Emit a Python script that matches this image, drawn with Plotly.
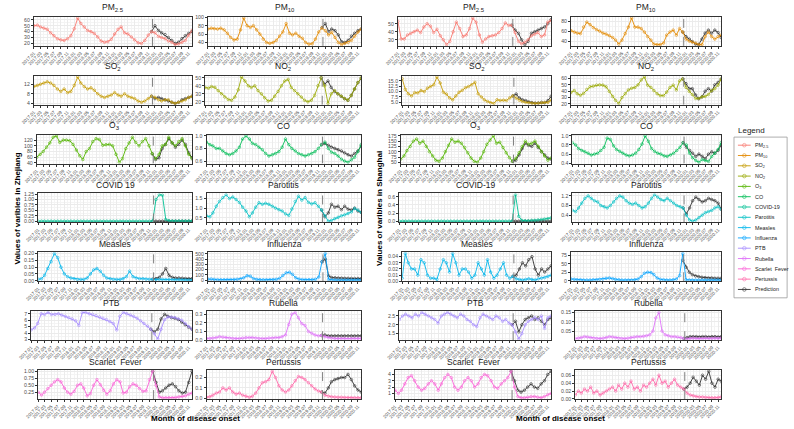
import plotly.graph_objects as go
import pandas as pd

W, H = 794, 429
months = pd.date_range("2017-01-01", "2020-12-01", freq="MS")
pred_months = months[35:]
SPLIT = "2019-12-10"

# ---------------- Zhejiang ----------------
zj_pm25 = [50,51,48,46,44,38,33,28,26,25,28,33,45,63,54,48,42,40,37,31,24,22,23,27,36,44,48,38,36,31,26,21,20,25,34,40,38,32,30,28,24,22,18,19,22,25,34,42]
zj_pm25_pred = [40,50,42,38,35,30,25,20,22,28,33,37,40]
zj_pm10 = [72,74,73,72,74,70,62,52,46,48,70,98,80,76,80,70,60,48,40,38,40,45,55,65,85,62,58,62,55,50,40,36,37,48,65,75,68,58,64,52,40,35,38,40,45,55,65,72]
zj_pm10_pred = [75,85,66,72,68,58,42,40,45,55,62,68,72]
zj_so2 = [11,11.5,12,12.5,13,12.5,11.5,10,9,10,8.5,9,11.5,15,12.5,11,10,10.5,9.5,8,7,6.5,7,7.5,8.5,7.5,7,8,7,6.5,6,5,4.5,5,6,7,6.5,5.5,5,5.5,5.5,4.5,4,4.5,5,5.5,6.5,7]
zj_so2_pred = [7,6,6.5,6,5.5,5,4.5,4,4.5,5.5,6,6.5,7]
zj_no2 = [38,37,39,38,34,30,26,23,22,26,35,51,46,40,38,40,34,30,25,21,22,27,33,40,46,48,38,34,30,26,22,20,22,28,40,50,40,18,30,34,30,27,24,22,28,36,44,50]
zj_no2_pred = [50,42,46,38,33,30,27,24,22,28,36,44,49]
zj_o3 = [60,70,80,95,110,130,135,112,120,120,118,105,85,65,52,80,90,115,125,122,102,104,105,100,70,42,55,90,110,130,112,100,115,125,100,72,55,70,100,105,130,110,100,115,125,100,70,55]
zj_o3_pred = [72,52,58,90,105,125,110,95,105,120,105,75,58]
zj_co = [0.90,0.86,0.84,0.80,0.80,0.76,0.72,0.70,0.72,0.76,0.82,0.95,1.00,0.95,0.88,0.86,0.82,0.78,0.72,0.68,0.70,0.72,0.75,0.82,0.95,0.86,0.80,0.76,0.72,0.70,0.68,0.70,0.72,0.75,0.80,0.86,0.90,0.80,0.74,0.72,0.68,0.63,0.60,0.58,0.62,0.66,0.75,0.86]
zj_co_pred = [0.86,0.88,0.85,0.82,0.80,0.78,0.76,0.73,0.70,0.68,0.72,0.76,0.84]
zj_covid = [0]*36 + [1.00,1.22,1.20,0.08,0.02,0.01,0.01,0.01,0.01,0.01,0.01,0.01]
zj_covid_pred = [0,0,0,0,0,0,0,0,0,0,0,0,0]
zj_parotitis = [0.60,0.55,0.75,1.10,1.35,1.55,1.70,1.50,1.58,1.45,1.30,1.05,0.85,0.55,0.75,1.05,1.28,1.20,1.25,1.20,1.10,1.00,0.92,0.85,0.70,0.62,0.95,1.35,1.62,1.42,1.55,1.30,1.22,1.28,1.10,0.90,0.60,0.32,0.36,0.45,0.52,0.60,0.65,0.72,0.80,0.98,0.90,0.78]
zj_parotitis_pred = [0.90,0.55,0.75,1.20,1.05,1.10,0.92,1.10,0.95,0.90,1.00,0.85,0.78]
zj_measles = [0.01,0.015,0.04,0.09,0.14,0.20,0.17,0.10,0.05,0.03,0.02,0.015,0.01,0.01,0.01,0.02,0.05,0.08,0.09,0.07,0.04,0.02,0.015,0.01,0.01,0.01,0.015,0.03,0.07,0.03,0.02,0.015,0.015,0.012,0.01,0.01,0.008,0.01,0.01,0.008,0.01,0.008,0.007,0.008,0.006,0.006,0.005,0.005]
zj_measles_pred = [0.01,0.015,0.025,0.05,0.09,0.04,0.025,0.02,0.02,0.018,0.016,0.015,0.015]
zj_influenza = [20,22,15,10,8,8,10,12,14,18,25,45,85,75,30,15,10,8,8,10,12,18,35,90,140,150,110,45,20,12,10,10,12,18,60,350,505,15,5,4,3,3,3,3,3,4,5,5]
zj_influenza_pred = [350,400,80,50,45,40,38,35,35,33,32,32,30]
zj_ptb = [4.5,4.8,5.5,7.0,6.9,7.2,6.9,6.9,7.0,6.8,6.6,6.4,6.2,5.9,5.2,7.2,7.2,7.0,6.9,6.7,6.5,6.3,6.1,5.8,5.5,4.5,6.6,7.2,7.0,6.8,6.6,6.3,5.9,5.5,5.1,4.6,3.9,3.1,4.6,6.1,6.5,6.5,6.4,6.2,6.0,5.5,5.0,4.6]
zj_ptb_pred = [4.6,4.2,4.6,6.2,6.9,6.6,6.4,6.3,6.1,5.7,5.3,4.9,4.6]
zj_rubella = [0.02,0.02,0.025,0.03,0.04,0.035,0.03,0.025,0.02,0.02,0.02,0.025,0.03,0.03,0.03,0.025,0.02,0.02,0.02,0.025,0.025,0.03,0.03,0.04,0.06,0.18,0.30,0.32,0.26,0.19,0.17,0.10,0.08,0.06,0.05,0.055,0.04,0.03,0.025,0.02,0.02,0.02,0.02,0.015,0.02,0.02,0.02,0.02]
zj_rubella_pred = [0.055,0.06,0.05,0.05,0.05,0.05,0.05,0.05,0.05,0.05,0.05,0.05,0.05]
zj_scarlet = [0.25,0.15,0.25,0.38,0.50,0.62,0.70,0.62,0.40,0.25,0.18,0.28,0.50,0.55,0.40,0.12,0.20,0.50,0.70,0.52,0.32,0.18,0.30,0.55,0.70,0.62,0.22,0.25,0.45,0.55,0.50,0.38,0.28,0.30,0.70,1.00,0.50,0.08,0.05,0.05,0.05,0.05,0.06,0.08,0.10,0.12,0.18,0.22]
zj_scarlet_pred = [1.00,0.60,0.25,0.30,0.40,0.50,0.55,0.45,0.30,0.22,0.25,0.60,1.00]
zj_pertussis = [0.01,0.015,0.03,0.05,0.06,0.10,0.08,0.10,0.06,0.04,0.05,0.03,0.02,0.01,0.02,0.05,0.10,0.15,0.16,0.18,0.26,0.20,0.12,0.08,0.06,0.08,0.12,0.17,0.21,0.20,0.18,0.15,0.12,0.09,0.07,0.06,0.03,0.02,0.015,0.012,0.01,0.01,0.008,0.008,0.006,0.006,0.005,0.005]
zj_pertussis_pred = [0.06,0.05,0.10,0.16,0.18,0.19,0.20,0.20,0.23,0.18,0.12,0.08,0.06]

# ---------------- Shanghai ----------------
sh_pm25 = [53,31,31,36,38,40,42,39,46,50,47,39,43,35,30,24,28,40,52,44,34,36,44,57,52,36,27,31,34,35,36,39,44,51,48,48,39,28,25,27,30,35,37,39,34,36,52,54]
sh_pm25_pred = [48,42,38,30,24,28,38,40,42,44,46,50,55]
sh_pm10 = [62,59,57,56,69,79,74,68,64,61,57,55,52,48,43,35,43,56,69,87,69,69,66,59,50,43,35,34,34,37,53,59,63,53,66,59,45,41,39,37,34,34,50,59,50,45,50,53]
sh_pm10_pred = [59,50,45,40,35,34,45,57,63,57,63,58,48]
sh_so2 = [16.0,11.0,9.0,8.0,9.5,9.4,10.5,10.0,11.6,12.4,13.2,16.8,14.0,9.7,8.9,7.1,6.2,8.0,9.7,10.6,11.8,12.4,13.2,14.3,9.0,7.5,6.2,5.4,4.8,4.5,6.2,5.9,6.0,5.9,7.1,8.0,7.0,6.0,5.4,5.0,4.8,4.6,4.5,4.6,4.8,5.0,5.0,6.0]
sh_so2_pred = [8.0,8.9,7.0,6.2,5.8,5.2,4.9,4.6,4.7,5.0,4.8,5.8,7.8]
sh_no2 = [38,41,36,33.5,36.6,42.8,47,48,49.6,50,49.6,47,39.7,31.6,25.4,20.5,29.8,36,42,44.7,46,50,58,62.6,49.6,46,41,36,33,33,38.5,46,49.6,42,56.4,59.5,46,39.7,34.7,28.5,28.5,31,31.6,34.7,41,44,49.6,59.5]
sh_no2_pred = [59.5,52,44,44,34,28,31,40,44,40,50,54,59]
sh_o3 = [65,80,105,125,150,160,140,150,125,100,80,60,55,70,100,130,160,145,150,140,120,95,70,55,50,70,100,135,155,175,140,145,120,95,72,55,68,95,125,150,135,140,150,125,100,80,60,70]
sh_o3_pred = [55,60,85,115,140,130,125,140,120,100,85,70,65]
sh_co = [0.85,0.80,0.72,0.68,0.65,0.62,0.58,0.60,0.62,0.68,0.75,0.95,0.92,0.78,0.70,0.66,0.62,0.58,0.56,0.58,0.62,0.70,0.82,1.00,0.88,0.72,0.66,0.62,0.60,0.56,0.55,0.58,0.62,0.68,0.75,0.85,0.80,0.62,0.52,0.46,0.42,0.48,0.46,0.44,0.55,0.62,0.70,0.85]
sh_co_pred = [0.85,0.75,0.68,0.62,0.55,0.60,0.55,0.50,0.60,0.65,0.62,0.68,0.80]
sh_covid = [0]*36 + [0.65,0.12,0.02,0.01,0.01,0.02,0.02,0.03,0.04,0.05,0.06,0.08]
sh_covid_pred = [0,0,0,0,0,0,0,0,0,0,0,0,0]
sh_parotitis = [0.6,0.55,0.7,0.9,1.1,1.2,1.1,1.0,0.95,0.8,0.75,0.7,0.8,0.95,1.1,1.2,1.15,1.0,0.9,0.85,0.9,0.8,0.7,0.75,0.9,1.1,1.25,1.15,1.05,1.0,1.1,1.0,0.9,0.8,0.75,0.7,0.4,0.2,0.15,0.2,0.3,0.4,0.5,0.55,0.6,0.7,0.75,0.65]
sh_parotitis_pred = [0.7,0.45,0.7,1.0,1.15,1.05,0.95,1.0,1.1,1.05,1.0,0.9,0.65]
sh_measles = [0.005,0.045,0.03,0.02,0.02,0.01,0.035,0.03,0.01,0.005,0.005,0.003,0.02,0.035,0.03,0.015,0.045,0.03,0.01,0.02,0.02,0.015,0.005,0.01,0.03,0.02,0.01,0.035,0.015,0.005,0.01,0.02,0.03,0.01,0.005,0.008,0.004,0.003,0.002,0.003,0.004,0.003,0.002,0.004,0.005,0.006,0.008,0.01]
sh_measles_pred = [0.008,0.01,0.02,0.03,0.025,0.035,0.04,0.02,0.01,0.02,0.015,0.02,0.025]
sh_influenza = [5,4,3,3,2,2,2,3,3,4,5,7,8,6,4,3,2,2,2,2,3,5,12,22,25,24,18,8,4,3,2,2,3,5,15,80,3,2,2,2,2,2,2,2,2,2,2,2]
sh_influenza_pred = [60,40,25,18,14,12,10,9,8,8,7,7,7]
sh_ptb = [2.3,2.5,2.6,2.5,2.4,2.6,2.5,2.7,2.6,2.5,2.4,2.3,2.1,2.5,2.6,2.7,2.6,2.5,2.4,2.6,2.5,2.3,2.2,2.0,1.9,2.4,2.6,2.5,2.4,2.3,2.5,2.4,2.2,2.3,2.1,2.0,1.6,1.2,1.5,2.0,2.2,2.3,2.4,2.3,2.5,1.8,2.4,2.5]
sh_ptb_pred = [2.0,2.2,1.6,2.0,2.3,2.4,2.5,2.3,2.4,2.2,2.0,2.3,2.4]
sh_rubella = [0.01,0.012,0.015,0.02,0.018,0.015,0.012,0.01,0.01,0.012,0.015,0.02,0.018,0.015,0.012,0.01,0.01,0.012,0.015,0.018,0.02,0.02,0.022,0.025,0.03,0.05,0.12,0.15,0.05,0.03,0.025,0.02,0.02,0.018,0.015,0.01,0.008,0.01,0.012,0.01,0.01,0.01,0.012,0.01,0.01,0.012,0.01,0.012]
sh_rubella_pred = [0.01,0.015,0.02,0.02,0.02,0.018,0.02,0.02,0.018,0.02,0.02,0.018,0.02]
sh_scarlet = [1.5,1.0,1.5,2.5,3.5,3.8,3.0,2.0,1.5,1.8,2.5,3.0,2.5,1.5,2.5,3.5,4.0,3.5,2.0,1.5,2.0,3.0,3.5,3.0,2.0,2.5,3.5,4.0,3.8,3.0,2.0,1.8,2.5,3.0,3.5,4.5,2.0,0.5,0.3,0.3,0.4,0.5,0.5,0.4,0.3,0.5,0.8,1.0]
sh_scarlet_pred = [4.5,3.0,1.5,1.2,1.5,2.0,2.5,2.0,1.8,2.5,3.0,4.0,4.5]
sh_pertussis = [0.01,0.02,0.015,0.025,0.02,0.03,0.015,0.02,0.01,0.015,0.02,0.025,0.03,0.02,0.035,0.025,0.04,0.03,0.045,0.025,0.03,0.02,0.035,0.03,0.04,0.05,0.035,0.06,0.04,0.045,0.03,0.04,0.05,0.035,0.03,0.025,0.015,0.01,0.008,0.006,0.005,0.005,0.004,0.004,0.003,0.003,0.004,0.005]
sh_pertussis_pred = [0.025,0.03,0.04,0.055,0.045,0.035,0.06,0.05,0.07,0.04,0.03,0.05,0.045]

# ---------------- labels, ticks ----------------
var_names = ["PM<sub>2.5</sub>", "PM<sub>10</sub>", "SO<sub>2</sub>", "NO<sub>2</sub>", "O<sub>3</sub>", "CO",
             "COVID-19", "Parotitis", "Measles", "Influenza", "PTB", "Rubella", "Scarlet  Fever", "Pertussis"]
legend_labels = var_names + ["Prediction"]
zj_titles = var_names[:6] + ["COVID 19"] + var_names[7:]
sh_titles = var_names[:]
palette = ["#F8766D", "#E38900", "#C49A00", "#99A800", "#53B400", "#00BC56", "#00C094",
           "#00BFC4", "#00B6EB", "#06A4FF", "#A58AFF", "#DF70F8", "#FB61D7", "#FF66A8"]
pred_color = "#303030"

zj_ticks = [
    ["20", "30", "40", "50", "60"], ["40", "60", "80", "100"], ["4", "8", "12"], ["20", "30", "40", "50"],
    ["40", "60", "80", "100", "120", "140"], ["0.6", "0.8", "1.0"], ["0.00", "0.25", "0.50", "0.75", "1.00", "1.25"],
    ["0.5", "1.0", "1.5"], ["0.00", "0.05", "0.10", "0.15", "0.20"], ["0", "100", "200", "300", "400", "500"],
    ["3", "4", "5", "6", "7"], ["0.0", "0.1", "0.2", "0.3"], ["0.00", "0.25", "0.50", "0.75", "1.00"], ["0.0", "0.1", "0.2"]]
sh_ticks = [
    ["20", "30", "40", "50"], ["40", "60", "80"], ["5.0", "7.5", "10.0", "12.5", "15.0"], ["20", "30", "40", "50", "60", "70"],
    ["50", "75", "100", "125", "150", "175"], ["0.4", "0.6", "0.8", "1.0"], ["0.0", "0.2", "0.4", "0.6"],
    ["0.4", "0.8", "1.2"], ["0.00", "0.01", "0.02", "0.03", "0.04", "0.05"], ["0", "25", "50", "75"],
    ["1.5", "2.0", "2.5"], ["0.00", "0.05", "0.10", "0.15"], ["0", "1", "2", "3", "4", "5"], ["0.00", "0.02", "0.04", "0.06"]]

zj_series = [(zj_pm25, zj_pm25_pred), (zj_pm10, zj_pm10_pred), (zj_so2, zj_so2_pred), (zj_no2, zj_no2_pred),
             (zj_o3, zj_o3_pred), (zj_co, zj_co_pred), (zj_covid, zj_covid_pred), (zj_parotitis, zj_parotitis_pred),
             (zj_measles, zj_measles_pred), (zj_influenza, zj_influenza_pred), (zj_ptb, zj_ptb_pred),
             (zj_rubella, zj_rubella_pred), (zj_scarlet, zj_scarlet_pred), (zj_pertussis, zj_pertussis_pred)]
sh_series = [(sh_pm25, sh_pm25_pred), (sh_pm10, sh_pm10_pred), (sh_so2, sh_so2_pred), (sh_no2, sh_no2_pred),
             (sh_o3, sh_o3_pred), (sh_co, sh_co_pred), (sh_covid, sh_covid_pred), (sh_parotitis, sh_parotitis_pred),
             (sh_measles, sh_measles_pred), (sh_influenza, sh_influenza_pred), (sh_ptb, sh_ptb_pred),
             (sh_rubella, sh_rubella_pred), (sh_scarlet, sh_scarlet_pred), (sh_pertussis, sh_pertussis_pred)]

# ---------------- geometry (pixels) ----------------
# each small plot starts at its column's left edge; its panel begins after its own tick labels
COL_LEFT = {(0, 0): 11, (0, 1): 185, (1, 0): 381, (1, 1): 557}
COL_RIGHT = {(0, 0): 182, (0, 1): 354, (1, 0): 547, (1, 1): 720}
YTICK_FS = 5.2
ROW_TOP0, ROW_PITCH, ROW_H = 14, 59.7, 29.5
LEG_BOX = (733, 787, 136, 299)  # left, right, top, bottom
LEG_PITCH, LEG_FIRST = 10.45, 8.2
FONT = "Liberation Sans, Arial, sans-serif"
LINE_W, MK = 0.9, 2.6


def label_width(s):
    return sum((0.278 if ch == "." else 0.556) * YTICK_FS for ch in s)


fig = go.Figure()
layout = {}
shapes, annotations = [], []

for r, (series, ticks, titles) in enumerate([(zj_series, zj_ticks, zj_titles), (sh_series, sh_ticks, sh_titles)]):
    for v in range(14):
        k = r * 14 + v + 1
        xn, yn = ("x" if k == 1 else f"x{k}"), ("y" if k == 1 else f"y{k}")
        row, col = v // 2, v % 2
        x0 = COL_LEFT[(r, col)] + max(label_width(t) for t in ticks[v]) + 4.5
        x1 = COL_RIGHT[(r, col)]
        top = ROW_TOP0 + row * ROW_PITCH
        bot = top + ROW_H
        actual, pred = series[v]
        allv = list(actual) + list(pred)
        lo, hi = min(allv), max(allv)
        span = hi - lo
        rng = [lo - 0.05 * span, hi + 0.05 * span]
        tv = [float(t) for t in ticks[v]]
        step = tv[1] - tv[0]
        minor_vals = [tv[0] - step / 2] + [t + step / 2 for t in tv]

        fig.add_trace(go.Scatter(
            x=pred_months, y=pred, xaxis=xn, yaxis=yn, mode="lines+markers",
            line=dict(color=pred_color, width=LINE_W),
            marker=dict(symbol="circle-open", size=MK, line=dict(width=0.6)),
            name="Prediction", showlegend=False))
        fig.add_trace(go.Scatter(
            x=months, y=actual, xaxis=xn, yaxis=yn, mode="lines+markers",
            line=dict(color=palette[v], width=LINE_W),
            marker=dict(symbol="circle-open", size=MK, line=dict(width=0.6)),
            name=var_names[v], showlegend=False))

        layout["xaxis" if k == 1 else f"xaxis{k}"] = dict(
            domain=[x0 / W, x1 / W], anchor=yn, type="date",
            range=[months[0], months[-1]], tick0="2017-01-01", dtick="M2", tickformat="%Y.%m",
            tickangle=-45, tickfont=dict(size=4.6, color="#4D4D4D", family=FONT),
            showline=True, mirror=True, linecolor="#333333", linewidth=1,
            ticks="outside", ticklen=2, tickcolor="#333333", tickwidth=0.6,
            showgrid=True, gridcolor="#EBEBEB", gridwidth=0.6, zeroline=False,
            minor=dict(dtick="M1", showgrid=True, gridcolor="#F4F4F4", gridwidth=0.4))
        layout["yaxis" if k == 1 else f"yaxis{k}"] = dict(
            domain=[1 - bot / H, 1 - top / H], anchor=xn, range=rng,
            tickmode="array", tickvals=tv, ticktext=ticks[v],
            tickfont=dict(size=YTICK_FS, color="#4D4D4D", family=FONT),
            showline=True, mirror=True, linecolor="#333333", linewidth=1,
            ticks="outside", ticklen=2, tickcolor="#333333", tickwidth=0.6,
            showgrid=True, gridcolor="#EBEBEB", gridwidth=0.6, zeroline=False,
            minor=dict(tickmode="array", tickvals=minor_vals, showgrid=True, gridcolor="#F4F4F4", gridwidth=0.4, ticks=""))
        shapes.append(dict(type="line", xref=xn, yref=yn, x0=SPLIT, x1=SPLIT, y0=rng[0], y1=rng[1],
                           line=dict(color="#7F7F7F", width=1, dash="dash"), layer="above"))
        annotations.append(dict(text=titles[v], x=(x0 + x1) / 2 / W, y=1 - (top - 1.5) / H,
                                xref="paper", yref="paper", xanchor="center", yanchor="bottom",
                                showarrow=False, font=dict(size=8.5, color="#1A1A1A", family=FONT)))

# ---------------- legend (drawn on its own small axis) ----------------
lx0, lx1, ly0, ly1 = LEG_BOX
layout["xaxis29"] = dict(domain=[lx0 / W, lx1 / W], anchor="y29", range=[0, lx1 - lx0], visible=False, fixedrange=True)
layout["yaxis29"] = dict(domain=[1 - ly1 / H, 1 - ly0 / H], anchor="x29", range=[ly1 - ly0, 0], visible=False, fixedrange=True)
leg_colors = palette + [pred_color]
for i, (lab, c) in enumerate(zip(legend_labels, leg_colors)):
    yc = LEG_FIRST + i * LEG_PITCH
    fig.add_trace(go.Scatter(
        x=[4, 10.5, 17], y=[yc, yc, yc], xaxis="x29", yaxis="y29", mode="lines+markers",
        line=dict(color=c, width=LINE_W),
        marker=dict(symbol="circle-open", size=[0, 3.6, 0], color=c, line=dict(width=0.8)),
        showlegend=False, hoverinfo="skip"))
    annotations.append(dict(text=lab, x=19, y=yc, xref="x29", yref="y29", xanchor="left", yanchor="middle",
                            showarrow=False, font=dict(size=5.4, color="#1A1A1A", family=FONT)))
shapes.append(dict(type="rect", xref="paper", yref="paper", x0=lx0 / W, x1=lx1 / W,
                   y0=1 - ly1 / H, y1=1 - ly0 / H, line=dict(color="#9A9A9A", width=0.8)))

# axis titles
annotations += [
    dict(text="<b>Values of varibles in Zhejiang</b>", x=4.5 / W, y=1 - 208 / H, textangle=-90,
         xanchor="center", yanchor="middle",
         xref="paper", yref="paper", showarrow=False, font=dict(size=8, color="black", family=FONT)),
    dict(text="<b>Values of varibles in Shanghai</b>", x=372 / W, y=1 - 208 / H, textangle=-90,
         xanchor="center", yanchor="middle",
         xref="paper", yref="paper", showarrow=False, font=dict(size=8, color="black", family=FONT)),
    dict(text="<b>Month of disease onset</b>", x=186 / W, y=1 - 421 / H, xanchor="center", yanchor="middle",
         xref="paper", yref="paper", showarrow=False, font=dict(size=8, color="black", family=FONT)),
    dict(text="<b>Month of disease onset</b>", x=557 / W, y=1 - 421 / H, xanchor="center", yanchor="middle",
         xref="paper", yref="paper", showarrow=False, font=dict(size=8, color="black", family=FONT)),
    dict(text="Legend", x=735 / W, y=1 - 129 / H, xanchor="left", yanchor="middle",
         xref="paper", yref="paper", showarrow=False, font=dict(size=8, color="#1A1A1A", family=FONT)),
]

fig.update_layout(
    width=W, height=H, margin=dict(l=0, r=0, t=0, b=0),
    paper_bgcolor="white", plot_bgcolor="white",
    font=dict(family=FONT), showlegend=False,
    shapes=shapes, annotations=annotations,
    **layout)

fig.write_html("out.html", config={"displayModeBar": False},
               post_script="document.body.style.margin='0px';document.body.style.padding='0px';")
